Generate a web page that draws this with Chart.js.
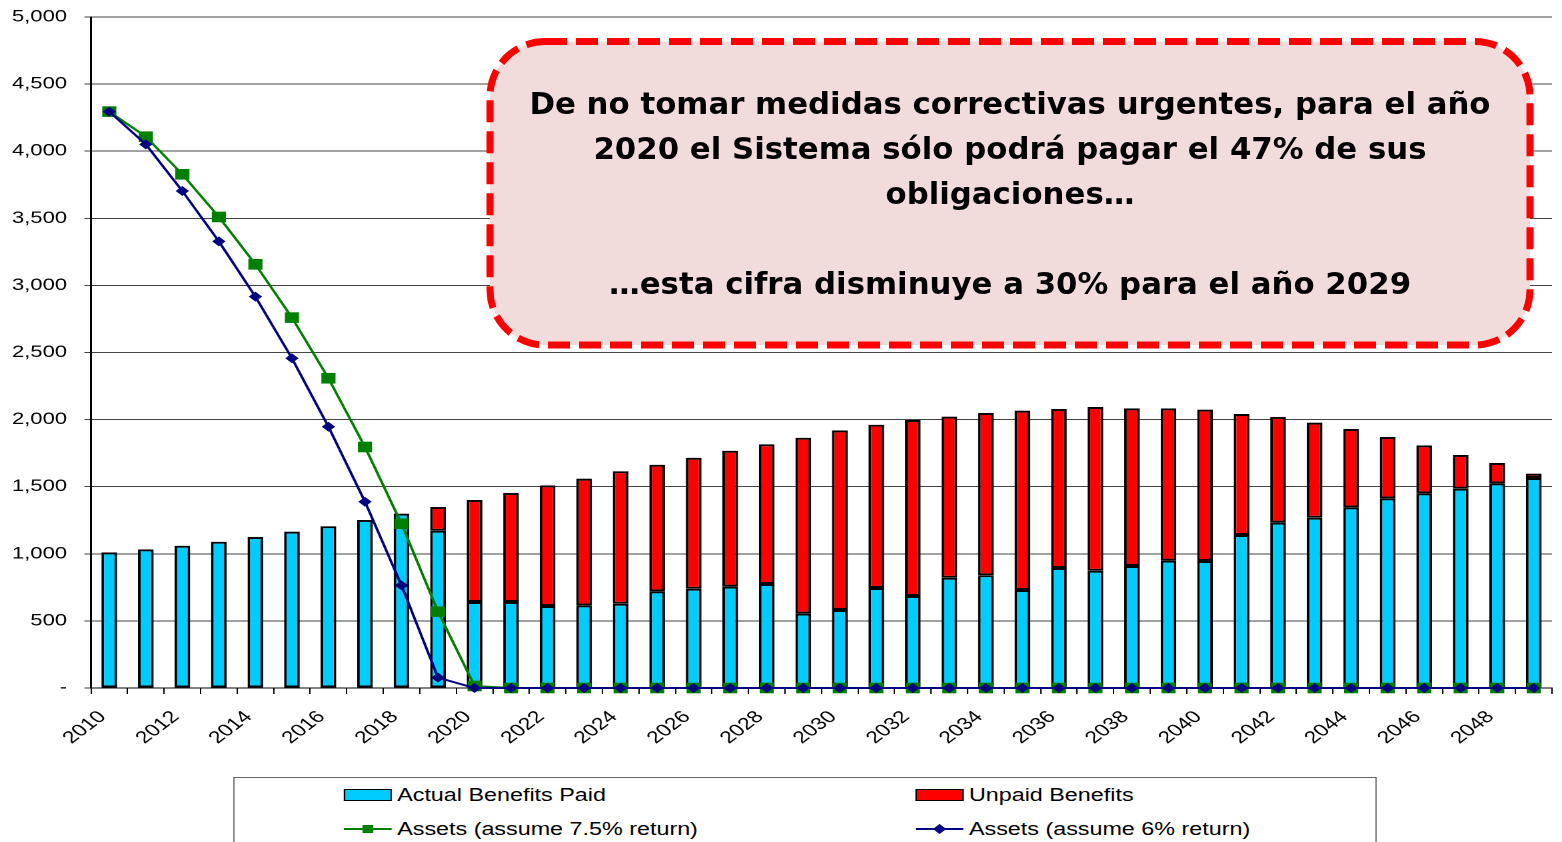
<!DOCTYPE html>
<html>
<head>
<meta charset="utf-8">
<script src="https://cdn.jsdelivr.net/npm/chart.js@4.4.0/dist/chart.umd.min.js"></script>
<style>
  html, body { margin: 0; padding: 0; background: #fff; overflow: hidden; }
  #page { position: relative; width: 1562px; height: 842px; overflow: hidden; }
  /* the source picture is a 4:3 chart stretched to wide format */
  #stretch { position: absolute; left: 0; top: 0; width: 1172px; height: 842px; transform: scaleX(1.33276); transform-origin: 0 0; }
  #wrap { position: absolute; left: 0; top: 0; width: 1172px; height: 842px; }
  #legend { position: absolute; left: 175px; top: 777px; width: 858px; height: 110px; border: 1px solid #666; box-sizing: border-box; background: #fff;
            font-family: 'Liberation Sans', Arial, sans-serif; font-size: 17.5px; color: #000; }
  .item { position: absolute; display: flex; align-items: center; height: 20px; white-space: nowrap; }
  .swatch { width: 36px; height: 12px; box-sizing: border-box; border: 1.5px solid #000; margin-right: 4px; }
  .item svg { margin-right: 4px; }
  #note { position: absolute; left: 0; top: 0; width: 1562px; height: 842px; pointer-events: none; }
  #noteText { position: absolute; left: 490px; width: 1040px; top: 81px; text-align: center; white-space: nowrap;
              font-family: 'DejaVu Sans', sans-serif; font-weight: bold; font-size: 30.8px; line-height: 45px; color: #000; }
</style>
</head>
<body>
<div id="page">
  <div id="stretch">
    <div id="wrap"><canvas id="chart"></canvas></div>
    <div id="legend">
      <div class="item" style="left:82px;top:7px"><div class="swatch" style="background:#00CCFF"></div>Actual Benefits Paid</div>
      <div class="item" style="left:511px;top:7px"><div class="swatch" style="background:#FF0000"></div>Unpaid Benefits</div>
      <div class="item" style="left:82px;top:41px">
        <svg width="36" height="14"><line x1="0" y1="7" x2="36" y2="7" stroke="#008000" stroke-width="2"/><rect x="14" y="3" width="8" height="8" fill="#008000"/></svg>Assets (assume 7.5% return)</div>
      <div class="item" style="left:511px;top:41px">
        <svg width="36" height="14"><line x1="0" y1="7" x2="36" y2="7" stroke="#000080" stroke-width="2"/><polygon points="18,2 23,7 18,12 13,7" fill="#000080"/></svg>Assets (assume 6% return)</div>
    </div>
  </div>
  <div id="note">
    <svg width="1562" height="842" style="position:absolute;left:0;top:0">
      <rect x="490" y="41.5" width="1040" height="303.5" rx="55" ry="55" fill="#F2DCDB" stroke="#FF0000" stroke-width="7" stroke-dasharray="22 9"/>
    </svg>
    <div id="noteText">De no tomar medidas correctivas urgentes, para el año<br>2020 el Sistema sólo podrá pagar el 47% de sus<br>obligaciones…<br>&nbsp;<br>…esta cifra disminuye a 30% para el año 2029</div>
  </div>
</div>
<script>
const years = [2010, 2011, 2012, 2013, 2014, 2015, 2016, 2017, 2018, 2019,
  2020, 2021, 2022, 2023, 2024, 2025, 2026, 2027, 2028, 2029,
  2030, 2031, 2032, 2033, 2034, 2035, 2036, 2037, 2038, 2039,
  2040, 2041, 2042, 2043, 2044, 2045, 2046, 2047, 2048, 2049];

const benefitsPaid = [1011, 1033, 1060, 1090, 1125, 1165, 1205, 1252, 1299, 1172,
  641, 641, 611, 616, 628, 720, 740, 755, 775, 554,
  581, 745, 686, 822, 840, 730, 894, 874, 909, 949,
  946, 1140, 1232, 1269, 1346, 1413, 1450, 1485, 1525, 1565];

const unpaidBenefits = [null, null, null, null, null, null, null, null, null, 177,
  760, 812, 899, 944, 987, 944, 976, 1013, 1041, 1311,
  1339, 1217, 1311, 1200, 1209, 1337, 1185, 1220, 1175, 1135,
  1128, 902, 787, 708, 584, 457, 358, 251, 152, 32];

const assets75 = [4295, 4108, 3828, 3510, 3157, 2760, 2308, 1796, 1224, 569,
  15, 0, 0, 0, 0, 0, 0, 0, 0, 0,
  0, 0, 0, 0, 0, 0, 0, 0, 0, 0,
  0, 0, 0, 0, 0, 0, 0, 0, 0, 0];

const assets6 = [4295, 4051, 3703, 3328, 2916, 2457, 1947, 1388, 765, 77,
  0, 0, 0, 0, 0, 0, 0, 0, 0, 0,
  0, 0, 0, 0, 0, 0, 0, 0, 0, 0,
  0, 0, 0, 0, 0, 0, 0, 0, 0, 0];

Chart.defaults.font.family = "'Liberation Sans', Arial, sans-serif";
Chart.defaults.font.size = 17;
Chart.defaults.color = '#000';

const ctx = document.getElementById('chart').getContext('2d');

new Chart(ctx, {
  type: 'bar',
  data: {
    labels: years.map(String),
    datasets: [
      {
        type: 'line',
        label: 'Assets (assume 6% return)',
        data: assets6,
        borderColor: '#000080',
        backgroundColor: '#000080',
        borderWidth: 2,
        pointStyle: 'rectRot',
        pointRadius: 5,
        pointBorderWidth: 0,
        tension: 0,
        stack: 'a6',
        clip: false,
        order: 0
      },
      {
        type: 'line',
        label: 'Assets (assume 7.5% return)',
        data: assets75,
        borderColor: '#008000',
        backgroundColor: '#008000',
        borderWidth: 2,
        pointStyle: 'rect',
        pointRadius: 7.5,
        pointBorderWidth: 0,
        tension: 0,
        stack: 'a75',
        clip: false,
        order: 1
      },
      {
        label: 'Actual Benefits Paid',
        data: benefitsPaid,
        backgroundColor: '#00CCFF',
        borderColor: '#000',
        borderWidth: 2,
        borderSkipped: false,
        stack: 'bars',
        order: 2
      },
      {
        label: 'Unpaid Benefits',
        data: unpaidBenefits,
        backgroundColor: '#FF0000',
        borderColor: '#000',
        borderWidth: 2,
        borderSkipped: false,
        stack: 'bars',
        order: 2
      }
    ]
  },
  options: {
    responsive: true,
    maintainAspectRatio: false,
    animation: false,
    devicePixelRatio: 2,
    layout: { padding: { left: 0, top: 17, right: 0, bottom: 0 } },
    datasets: {
      bar: { barPercentage: 0.43, categoryPercentage: 1 }
    },
    plugins: {
      legend: { display: false },
      tooltip: { enabled: false }
    },
    scales: {
      x: {
        stacked: true,
        grid: { display: true, drawOnChartArea: false, offset: true, tickLength: 6, color: '#000', lineWidth: 1 },
        border: { display: true, color: '#000', width: 1 },
        ticks: {
          autoSkip: false,
          minRotation: 45,
          maxRotation: 45,
          padding: 13,
          labelOffset: -5,
          callback: (val, i) => (i % 2 === 0 ? years[i] : '')
        },
        afterFit: s => {
          s.paddingLeft = 0;
          s.paddingRight = 0;
          s.height = 154;
        }
      },
      y: {
        stacked: true,
        min: 0,
        max: 5000,
        grid: { color: '#444', lineWidth: 1, tickLength: 5 },
        border: { display: true, color: '#000', width: 1.5 },
        ticks: {
          stepSize: 500,
          padding: 13,
          font: { size: 16.5 },
          callback: v => (v === 0 ? '-' : v.toLocaleString('en-US'))
        },
        afterFit: s => {
          s.paddingTop = 0;
          s.paddingBottom = 0;
          s.width = 68.3;
        }
      }
    }
  }
});
</script>
</body>
</html>
